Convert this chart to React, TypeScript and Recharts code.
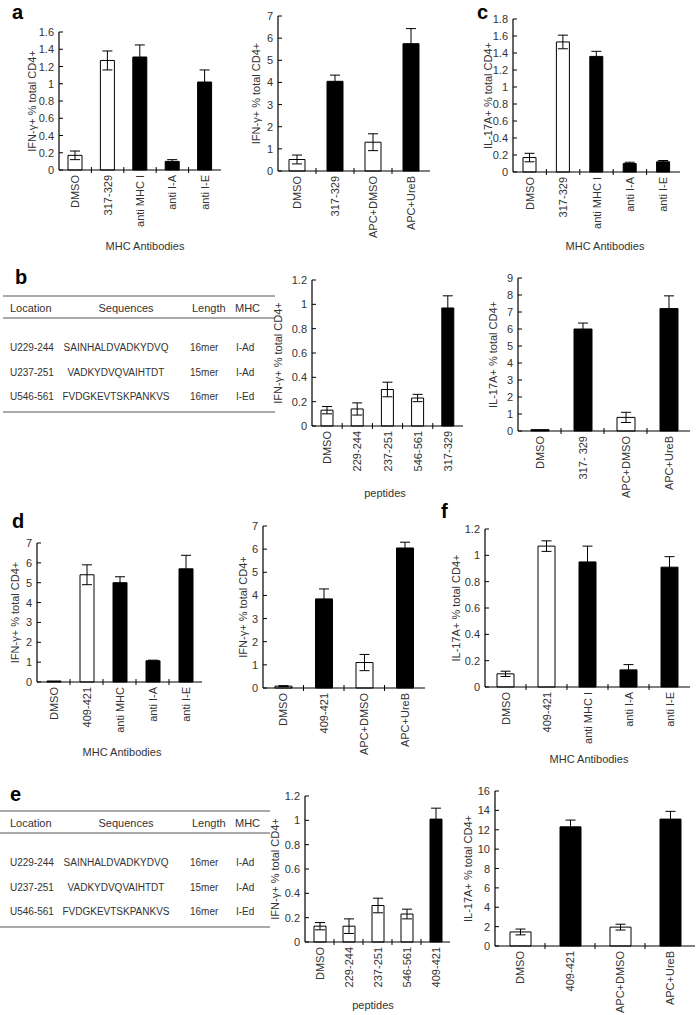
import React from "react";
import { BarChart, Bar, XAxis, YAxis, ErrorBar, Cell } from "recharts";

const FONT = '"Liberation Sans", Arial, Helvetica, sans-serif';
const INK = "#333";
const IFN = "IFN-γ+ % total CD4+";
const IL17 = "IL-17A+ % total CD4+";

// a (left): IFN-γ, MHC blocking, 317-329
const aAbCats = ["DMSO", "317-329", "anti MHC I", "anti I-A", "anti I-E"];
const aAbMean = [0.17, 1.27, 1.31, 0.1, 1.02];
const aAbErr = [0.05, 0.11, 0.14, 0.02, 0.14];
const aAbDark = [false, false, true, true, true];
const aAbTicks = [0, 0.2, 0.4, 0.6, 0.8, 1, 1.2, 1.4, 1.6];

// a (middle): IFN-γ, APC
const aApcCats = ["DMSO", "317-329", "APC+DMSO", "APC+UreB"];
const aApcMean = [0.52, 4.05, 1.3, 5.75];
const aApcErr = [0.2, 0.28, 0.38, 0.68];
const aApcDark = [false, true, false, true];
const sevenTicks = [0, 1, 2, 3, 4, 5, 6, 7];

// c: IL-17A, MHC blocking, 317-329
const cCats = ["DMSO", "317-329", "anti MHC I", "anti I-A", "anti I-E"];
const cMean = [0.17, 1.53, 1.36, 0.1, 0.12];
const cErr = [0.05, 0.08, 0.06, 0.015, 0.015];
const cDark = [false, false, true, true, true];
const cTicks = [0, 0.2, 0.4, 0.6, 0.8, 1, 1.2, 1.4, 1.6, 1.8];

// b: peptides
const bPepCats = ["DMSO", "229-244", "237-251", "546-561", "317-329"];
const bPepMean = [0.13, 0.14, 0.3, 0.23, 0.97];
const bPepErr = [0.03, 0.05, 0.06, 0.03, 0.1];
const bPepDark = [false, false, false, false, true];
const pepTicks = [0, 0.2, 0.4, 0.6, 0.8, 1, 1.2];

// b (right): IL-17A, APC
const bApcCats = ["DMSO", "317- 329", "APC+DMSO", "APC+UreB"];
const bApcMean = [0.08, 6.0, 0.8, 7.2];
const bApcErr = [0, 0.35, 0.3, 0.75];
const bApcDark = [true, true, false, true];
const nineTicks = [0, 1, 2, 3, 4, 5, 6, 7, 8, 9];

// d (left): IFN-γ, MHC blocking, 409-421
const dAbCats = ["DMSO", "409-421", "anti MHC", "anti I-A", "anti I-E"];
const dAbMean = [0.05, 5.4, 5.0, 1.07, 5.7];
const dAbErr = [0, 0.5, 0.3, 0.03, 0.68];
const dAbDark = [true, false, true, true, true];

// d (middle): IFN-γ, APC
const dApcCats = ["DMSO", "409-421", "APC+DMSO", "APC+UreB"];
const dApcMean = [0.08, 3.85, 1.1, 6.05];
const dApcErr = [0.02, 0.43, 0.35, 0.25];
const dApcDark = [false, true, false, true];

// f: IL-17A, MHC blocking, 409-421
const fCats = ["DMSO", "409-421", "anti MHC I", "anti I-A", "anti I-E"];
const fMean = [0.1, 1.07, 0.95, 0.13, 0.91];
const fErr = [0.02, 0.04, 0.12, 0.04, 0.08];
const fDark = [false, false, true, true, true];

// e: peptides
const ePepCats = ["DMSO", "229-244", "237-251", "546-561", "409-421"];
const ePepMean = [0.13, 0.13, 0.3, 0.23, 1.01];
const ePepErr = [0.03, 0.06, 0.06, 0.04, 0.09];
const ePepDark = [false, false, false, false, true];

// e (right): IL-17A, APC
const eApcCats = ["DMSO", "409-421", "APC+DMSO", "APC+UreB"];
const eApcMean = [1.45, 12.3, 1.95, 13.1];
const eApcErr = [0.3, 0.7, 0.3, 0.8];
const eApcDark = [false, true, false, true];
const sixteenTicks = [0, 2, 4, 6, 8, 10, 12, 14, 16];

// peptide table
const tblHead = ["Location", "Sequences", "Length", "MHC"];
const tblLoc = ["U229-244", "U237-251", "U546-561"];
const tblSeq = ["SAINHALDVADKYDVQ", "VADKYDVQVAIHTDT", "FVDGKEVTSKPANKVS"];
const tblLen = ["16mer", "15mer", "16mer"];
const tblMhc = ["I-Ad", "I-Ad", "I-Ed"];

const CatTick = (t: any) => (
  <g>
    <text
      transform={`translate(${t.x},${t.y + 5}) rotate(-90)`}
      textAnchor="end"
      dominantBaseline="central"
      fontSize={11}
      fill={INK}
    >
      {t.payload.value}
    </text>
    {t.index < t.n - 1 && (
      <line x1={t.x + t.bw / 2} x2={t.x + t.bw / 2} y1={t.y - 3} y2={t.y + 3} stroke="#000" />
    )}
  </g>
);

const ValTick = (t: any) => (
  <g>
    <line x1={t.x} x2={t.x + 4} y1={t.y} y2={t.y} stroke="#000" />
    <text x={t.x - 5} y={t.y} textAnchor="end" dominantBaseline="central" fontSize={11} fill={INK}>
      {t.payload.value}
    </text>
  </g>
);

type PanelProps = {
  x: number;
  y: number;
  w: number;
  h: number;
  cats: string[];
  mean: number[];
  err: number[];
  dark: boolean[];
  ticks: number[];
  ylabel: string;
  gap: number;
  barSize: number;
};

function Panel(p: PanelProps) {
  const data = p.cats.map((name, i) => ({ name, mean: p.mean[i], err: p.err[i] }));
  const n = p.cats.length;
  const bw = p.w / n;
  const max = p.ticks[p.ticks.length - 1];
  const L = 60, T = 8, R = 2, B = 80;
  return (
    <div style={{ position: "absolute", left: p.x - L, top: p.y - T }}>
      <BarChart
        width={L + p.w + R}
        height={T + p.h + B}
        data={data}
        margin={{ top: T, right: R, left: 0, bottom: 0 }}
      >
        <XAxis
          dataKey="name"
          height={B}
          interval={0}
          tickSize={0}
          tickMargin={0}
          tickLine={false}
          axisLine={{ stroke: "#000", strokeWidth: 1.2 }}
          tick={(t: any) => <CatTick {...t} bw={bw} n={n} />}
        />
        <XAxis
          xAxisId="top"
          orientation="top"
          dataKey="name"
          height={0}
          tick={false}
          tickLine={false}
          axisLine={{ stroke: "#555" }}
        />
        <YAxis
          domain={[0, max]}
          ticks={p.ticks}
          interval={0}
          width={L}
          tickSize={0}
          tickMargin={0}
          tickLine={false}
          axisLine={{ stroke: "#000", strokeWidth: 1.2 }}
          tick={(t: any) => <ValTick {...t} />}
          label={{
            value: p.ylabel,
            angle: -90,
            position: "insideLeft",
            offset: L - p.gap,
            textAnchor: "middle",
            fontSize: 11,
            fill: INK,
          }}
        />
        <YAxis
          yAxisId="right"
          orientation="right"
          domain={[0, max]}
          width={0}
          tick={false}
          tickLine={false}
          axisLine={{ stroke: "#555" }}
        />
        <Bar dataKey="mean" barSize={p.barSize} stroke="#000" strokeWidth={1} isAnimationActive={false}>
          {data.map((d, i) => (
            <Cell key={d.name} fill={p.dark[i] ? "#000" : "#fff"} />
          ))}
          <ErrorBar dataKey="err" width={5} stroke="#000" strokeWidth={1} isAnimationActive={false} />
        </Bar>
      </BarChart>
    </div>
  );
}

function PeptideTable({ top, x0, x1 }: { top: number; x0: number; x1: number }) {
  const headCols = [10, 126, 192, 235];
  return (
    <g fill={INK}>
      <line x1={x0} x2={x1} y1={top} y2={top} stroke="#555" />
      <line x1={x0} x2={x1} y1={top + 22} y2={top + 22} stroke="#555" />
      <line x1={x0} x2={x1} y1={top + 116} y2={top + 116} stroke="#555" />
      {tblHead.map((h, i) => (
        <text key={h} x={headCols[i]} y={top + 16} fontSize={11} textAnchor={i === 1 ? "middle" : "start"}>
          {h}
        </text>
      ))}
      {tblLoc.map((loc, i) => (
        <g key={loc} fontSize={10}>
          <text x={10} y={top + 55 + i * 24.5}>{loc}</text>
          <text x={116} y={top + 55 + i * 24.5} textAnchor="middle">{tblSeq[i]}</text>
          <text x={190} y={top + 55 + i * 24.5}>{tblLen[i]}</text>
          <text x={236} y={top + 55 + i * 24.5}>{tblMhc[i]}</text>
        </g>
      ))}
    </g>
  );
}

export default function App() {
  return (
    <div
      style={{
        position: "absolute",
        left: 0,
        top: 0,
        width: 697,
        height: 1015,
        overflow: "hidden",
        background: "#fff",
        fontFamily: FONT,
      }}
    >
      <svg width={697} height={1015} style={{ position: "absolute", left: 0, top: 0 }}>
        <g fontSize={20} fontWeight="bold" fill="#000">
          <text x={12} y={19}>a</text>
          <text x={15} y={284}>b</text>
          <text x={477} y={19}>c</text>
          <text x={12} y={528}>d</text>
          <text x={10} y={801}>e</text>
          <text x={441} y={518}>f</text>
        </g>
        <g fontSize={11} fill={INK} textAnchor="middle">
          <text x={145} y={250}>MHC Antibodies</text>
          <text x={605} y={250}>MHC Antibodies</text>
          <text x={385} y={497}>peptides</text>
          <text x={122} y={756}>MHC Antibodies</text>
          <text x={589} y={763}>MHC Antibodies</text>
          <text x={373} y={1009}>peptides</text>
        </g>
        <PeptideTable top={296} x0={3} x1={275} />
        <PeptideTable top={811} x0={0} x1={270} />
      </svg>

      <Panel x={59} y={32} w={162} h={138} cats={aAbCats} mean={aAbMean} err={aAbErr} dark={aAbDark} ticks={aAbTicks} ylabel={IFN} gap={27} barSize={14} />
      <Panel x={278} y={16} w={152} h={155} cats={aApcCats} mean={aApcMean} err={aApcErr} dark={aApcDark} ticks={sevenTicks} ylabel={IFN} gap={22} barSize={16} />
      <Panel x={513} y={19} w={167} h={153} cats={cCats} mean={cMean} err={cErr} dark={cDark} ticks={cTicks} ylabel={IL17} gap={25} barSize={13} />
      <Panel x={312} y={280} w={151} h={146} cats={bPepCats} mean={bPepMean} err={bPepErr} dark={bPepDark} ticks={pepTicks} ylabel={IFN} gap={34} barSize={12} />
      <Panel x={518} y={278} w={172} h={153} cats={bApcCats} mean={bApcMean} err={bApcErr} dark={bApcDark} ticks={nineTicks} ylabel={IL17} gap={25} barSize={18} />
      <Panel x={37} y={543} w={165} h={139} cats={dAbCats} mean={dAbMean} err={dAbErr} dark={dAbDark} ticks={sevenTicks} ylabel={IFN} gap={22} barSize={14} />
      <Panel x={263} y={526} w={162} h={162} cats={dApcCats} mean={dApcMean} err={dApcErr} dark={dApcDark} ticks={sevenTicks} ylabel={IFN} gap={20} barSize={17} />
      <Panel x={485} y={529} w={205} h={158} cats={fCats} mean={fMean} err={fErr} dark={fDark} ticks={pepTicks} ylabel={IL17} gap={29} barSize={17} />
      <Panel x={305} y={796} w={145} h={146} cats={ePepCats} mean={ePepMean} err={ePepErr} dark={ePepDark} ticks={pepTicks} ylabel={IFN} gap={30} barSize={12} />
      <Panel x={495} y={791} w={200} h={155} cats={eApcCats} mean={eApcMean} err={eApcErr} dark={eApcDark} ticks={sixteenTicks} ylabel={IL17} gap={27} barSize={21} />
    </div>
  );
}
